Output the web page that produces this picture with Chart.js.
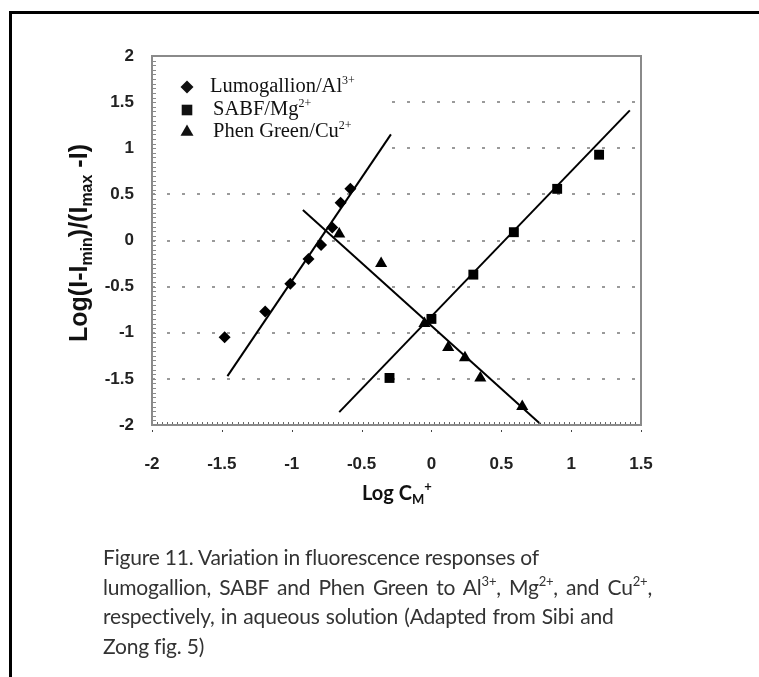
<!DOCTYPE html>
<html>
<head>
<meta charset="utf-8">
<script src="https://cdn.jsdelivr.net/npm/chart.js@4.4.0/dist/chart.umd.min.js"></script>
<style>
  body { margin: 0; background: #fff; }
  #wrap { position: relative; width: 759px; height: 677px; overflow: hidden; }
  #c { position: absolute; left: 0; top: 0; }
  #caption { position: absolute; left: 103px; top: 542px; font: 21px Lato, sans-serif; line-height: 29.5px; color: #333; white-space: nowrap; letter-spacing: -0.2px; }
  #caption sup { font-size: 0.62em; vertical-align: 0.7em; line-height: 0; }
</style>
</head>
<body>
<div id="wrap">
  <canvas id="c" width="759" height="677"></canvas>
  <div id="caption">Figure 11. Variation in fluorescence responses of<br><span style="word-spacing:3px">lumogallion, SABF and Phen Green to Al<sup>3+</sup>, Mg<sup>2+</sup>, and Cu<sup>2+</sup>,</span><br><span style="word-spacing:1px">respectively, in aqueous solution (Adapted from Sibi and</span><br>Zong fig. 5)</div>
</div>
<script>
// values
const lumoX = [-1.48, -1.19, -1.01, -0.88, -0.79, -0.71, -0.65, -0.58];
const lumoY = [-1.05, -0.77, -0.47, -0.20, -0.05, 0.14, 0.41, 0.56];
const sabfX = [-0.30, 0.00, 0.30, 0.59, 0.90, 1.20];
const sabfY = [-1.49, -0.85, -0.37, 0.09, 0.56, 0.93];
const phenX = [-0.66, -0.36, -0.05, 0.12, 0.24, 0.35, 0.65];
const phenY = [0.07, -0.25, -0.90, -1.16, -1.27, -1.49, -1.80];

// fitted lines (end points)
const lumoFitX = [-1.46, -0.29];
const lumoFitY = [-1.47, 1.15];
const sabfFitX = [-0.66, 1.42];
const sabfFitY = [-1.86, 1.41];
const phenFitX = [-0.92, 0.78];
const phenFitY = [0.33, -1.99];

const xMin = -2, xMax = 1.5, yMin = -2, yMax = 2;

const legendItems = [
  { name: 'Lumogallion/Al', sup: '3+', style: 'rectRot', r: 6.5 },
  { name: 'SABF/Mg', sup: '2+', style: 'rect', r: 7.5 },
  { name: 'Phen Green/Cu', sup: '2+', style: 'triangle', r: 7.5 }
];

const pts = (xs, ys) => xs.map((x, i) => ({ x: x, y: ys[i] }));

function rich(ctx, parts, x, y) {
  // parts: [text, size, shift, weight, family]
  parts.forEach(p => {
    ctx.font = p[3] + ' ' + p[1] + 'px ' + p[4];
    ctx.fillText(p[0], x, y + p[2]);
    x += ctx.measureText(p[0]).width;
  });
  return x;
}

const decor = {
  id: 'decor',
  beforeDraw(chart) {
    const ctx = chart.ctx;
    ctx.save();
    ctx.fillStyle = '#fff';
    ctx.fillRect(0, 0, chart.width, chart.height);
    ctx.fillStyle = '#000';
    ctx.fillRect(9, 11, 3, chart.height);
    ctx.fillRect(9, 11, chart.width, 3);
    ctx.restore();
  },
  beforeDatasetsDraw(chart) {
    const ctx = chart.ctx, a = chart.chartArea;
    ctx.save();
    ctx.fillStyle = '#fff';
    ctx.fillRect(a.left + 1, a.top + 1, 236, 112);
    ctx.restore();
  },
  afterDraw(chart) {
    const ctx = chart.ctx, a = chart.chartArea;
    const xs = chart.scales.x, ys = chart.scales.y;
    ctx.save();
    // minor ticks
    ctx.fillStyle = '#8a8a8a';
    for (let v = yMin; v <= yMax + 1e-9; v += 0.05) {
      ctx.fillRect(a.left, Math.round(ys.getPixelForValue(v)), 4, 1);
    }
    ctx.fillStyle = '#666';
    for (let v = xMin; v <= xMax + 1e-9; v += 0.036) {
      ctx.fillRect(Math.round(xs.getPixelForValue(v)), a.bottom - 3, 1, 2);
    }
    ctx.fillStyle = '#444';
    for (let v = xMin; v <= xMax + 1e-9; v += 0.5) {
      ctx.fillRect(Math.round(xs.getPixelForValue(v)), a.bottom + 5, 1, 2);
    }
    // plot frame
    ctx.strokeStyle = '#8a8a8a';
    ctx.lineWidth = 2;
    ctx.strokeRect(a.left, a.top, a.right - a.left, a.bottom - a.top);

    // legend
    ctx.fillStyle = '#111';
    ctx.textBaseline = 'middle';
    const rows = [87, 110, 132];
    const serif = '"Liberation Serif", serif';
    legendItems.forEach((it, i) => {
      Chart.helpers.drawPoint(ctx, { pointStyle: it.style, radius: it.r, rotation: 0, borderWidth: 0 }, 187, rows[i]);
      rich(ctx, [[it.name, 20.5, 0, '', serif], [it.sup, 12, -6, '', serif]], i === 0 ? 210 : 213, rows[i]);
    });

    // x title
    ctx.fillStyle = '#111';
    ctx.textBaseline = 'alphabetic';
    const f = 'Lato, sans-serif';
    rich(ctx, [['Log C', 20, 0, 'bold', f], ['M', 13, 4, 'bold', f], ['+', 13, -9, 'bold', f]], 362, 500);

    // y title
    ctx.translate(87, 243);
    ctx.rotate(-Math.PI / 2);
    const g = '"Liberation Sans", Arial, sans-serif';
    const parts = [['Log(I-I', 25, 0, 'bold', g], ['min', 16, 5, 'bold', g], [')/(I', 25, 0, 'bold', g], ['max', 16, 5, 'bold', g], [' -I)', 25, 0, 'bold', g]];
    let w = 0;
    parts.forEach(p => { ctx.font = p[3] + ' ' + p[1] + 'px ' + p[4]; w += ctx.measureText(p[0]).width; });
    rich(ctx, parts, -w / 2, 0);
    ctx.restore();
  }
};

const tickFont = { family: '"Liberation Sans", Arial', size: 17, weight: 'bold' };

new Chart(document.getElementById('c'), {
  type: 'scatter',
  data: {
    datasets: [
      { data: pts(lumoX, lumoY), pointStyle: 'rectRot', pointRadius: 6, backgroundColor: '#000', borderWidth: 0 },
      { data: pts(sabfX, sabfY), pointStyle: 'rect', pointRadius: 7, backgroundColor: '#000', borderWidth: 0 },
      { data: pts(phenX, phenY), pointStyle: 'triangle', pointRadius: 7, backgroundColor: '#000', borderWidth: 0 },
      { data: pts(lumoFitX, lumoFitY), showLine: true, pointRadius: 0, borderColor: '#000', borderWidth: 2 },
      { data: pts(sabfFitX, sabfFitY), showLine: true, pointRadius: 0, borderColor: '#000', borderWidth: 2 },
      { data: pts(phenFitX, phenFitY), showLine: true, pointRadius: 0, borderColor: '#000', borderWidth: 2 }
    ]
  },
  options: {
    responsive: false,
    animation: false,
    layout: { padding: { left: 0, top: 56, right: 118, bottom: 192 } },
    plugins: { legend: { display: false }, tooltip: { enabled: false } },
    scales: {
      x: {
        type: 'linear', min: xMin, max: xMax,
        afterFit: s => { s.height = 60; },
        grid: { display: false },
        border: { display: false },
        ticks: { stepSize: 0.5, padding: 21, color: '#222', font: tickFont, callback: v => String(v) }
      },
      y: {
        type: 'linear', min: yMin, max: yMax,
        afterFit: s => { s.width = 152; },
        grid: {
          drawTicks: false, lineWidth: 2,
          color: c => (c.tick && Math.abs(c.tick.value) === 2) ? 'rgba(0,0,0,0)' : '#9a9a9a'
        },
        border: { display: false, dash: [3, 12] },
        ticks: { stepSize: 0.5, padding: 18, color: '#222', font: tickFont, callback: v => String(v) }
      }
    }
  },
  plugins: [decor]
});
</script>
</body>
</html>
